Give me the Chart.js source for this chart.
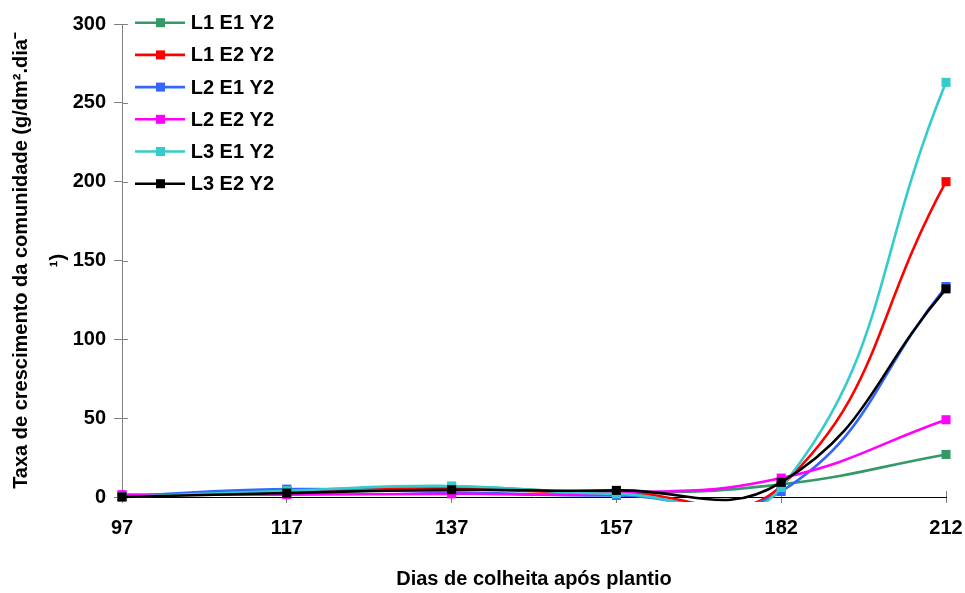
<!DOCTYPE html>
<html>
<head>
<meta charset="utf-8">
<script src="https://cdn.jsdelivr.net/npm/chart.js@4"></script>
<style>
  html, body { margin: 0; padding: 0; background: #ffffff; }
  #wrap { width: 965px; height: 593px; }
</style>
</head>
<body>
<div id="wrap"><canvas id="c" width="965" height="593"></canvas></div>
<script>
const categories = ['97', '117', '137', '157', '182', '212'];
const seriesNames = ['L1 E1 Y2', 'L1 E2 Y2', 'L2 E1 Y2', 'L2 E2 Y2', 'L3 E1 Y2', 'L3 E2 Y2'];
const l1e1 = [0.5, 4, 6.5, 3, 8, 27];
const l1e2 = [0.5, 4, 5, 3, 7, 200];
const l2e1 = [0.5, 5, 3, 1, 3.5, 133.5];
const l2e2 = [1.5, 1.5, 2, 2.5, 12, 49];
const l3e1 = [0, 4, 7, 2, 6, 263];
const l3e2 = [0, 2.5, 4.6, 4.2, 9.3, 132];
const yTickValues = [0, 50, 100, 150, 200, 250, 300];
const seriesColors = ['#339966', '#FF0000', '#3366FF', '#FF00FF', '#33CCCC', '#000000'];
const xTitle = 'Dias de colheita após plantio';
const yTitle = ['Taxa de crescimento da comunidade (g/dm².dia⁻', '¹)'];

const FONT = '"Liberation Sans", Arial, sans-serif';
const allSeries = [l1e1, l1e2, l2e1, l2e2, l3e1, l3e2];

const datasets = allSeries.map((vals, i) => ({
  label: seriesNames[i],
  data: vals,
  borderColor: seriesColors[i],
  backgroundColor: seriesColors[i],
  pointBackgroundColor: seriesColors[i],
  pointBorderColor: seriesColors[i],
  pointBorderWidth: 0,
  pointStyle: 'rect',
  pointRadius: 6.4,
  pointHoverRadius: 6.4,
  borderWidth: 2.6,
  tension: 0.45,
  capBezierPoints: false,
  fill: false,
  order: allSeries.length - i,
  clip: { left: 10, top: 10, right: 10, bottom: 5 }
}));

const innerTicks = {
  id: 'innerTicks',
  beforeDatasetsDraw(chart) {
    const ctx = chart.ctx;
    const xs = chart.scales.x, ys = chart.scales.y;
    ctx.save();
    ctx.strokeStyle = '#808080';
    ctx.lineWidth = 1;
    ys.ticks.forEach(t => {
      const y = Math.round(ys.getPixelForValue(t.value)) + 0.5;
      ctx.beginPath();
      ctx.moveTo(xs.left, y);
      ctx.lineTo(xs.left + 6, y);
      ctx.stroke();
    });
    categories.forEach((c, i) => {
      const x = Math.round(xs.getPixelForValue(i)) + 0.5;
      ctx.beginPath();
      ctx.moveTo(x, ys.bottom);
      ctx.lineTo(x, ys.bottom - 6);
      ctx.stroke();
    });
    ctx.restore();
  }
};

const lineLegend = {
  id: 'lineLegend',
  afterDraw(chart) {
    const ctx = chart.ctx;
    const area = chart.chartArea;
    ctx.save();
    ctx.font = 'bold 20px ' + FONT;
    ctx.textBaseline = 'middle';
    ctx.textAlign = 'left';
    chart.data.datasets.forEach((ds, i) => {
      const y = area.top - 1.3 + i * 32.2;
      const x0 = area.left + 13;
      ctx.strokeStyle = ds.borderColor;
      ctx.lineWidth = 2.6;
      ctx.beginPath();
      ctx.moveTo(x0, y);
      ctx.lineTo(x0 + 50, y);
      ctx.stroke();
      ctx.fillStyle = ds.borderColor;
      ctx.fillRect(x0 + 25.5 - 4.5, y - 4.5, 9, 9);
      ctx.fillStyle = '#000000';
      ctx.fillText(ds.label, x0 + 55.7, y + 1);
    });
    ctx.restore();
  }
};

new Chart(document.getElementById('c'), {
  type: 'line',
  data: { labels: categories, datasets },
  options: {
    responsive: false,
    animation: false,
    devicePixelRatio: 1,
    layout: { padding: { left: 0, top: 24, right: 19, bottom: 0 } },
    plugins: {
      legend: { display: false },
      tooltip: { enabled: false },
      title: { display: false }
    },
    scales: {
      x: {
        type: 'category',
        offset: false,
        afterFit(scale) { scale.height = 96; scale.paddingRight = 0; scale.paddingLeft = 0; },
        grid: { display: true, drawOnChartArea: false, drawTicks: true, tickLength: 6, color: '#808080' },
        border: { display: true, color: '#000000', width: 1 },
        ticks: {
          color: '#000000',
          font: { family: FONT, size: 20, weight: 'bold' },
          padding: 13,
          maxRotation: 0,
          autoSkip: false
        },
        title: {
          display: true,
          text: xTitle,
          color: '#000000',
          font: { family: FONT, size: 20, weight: 'bold', lineHeight: 1.2 },
          padding: { top: 0, bottom: 2 }
        }
      },
      y: {
        min: 0,
        max: 300,
        afterFit(scale) { scale.width = 122; },
        afterBuildTicks(scale) { scale.ticks = yTickValues.map(v => ({ value: v })); },
        grid: { display: true, drawOnChartArea: false, drawTicks: true, tickLength: 8, color: '#808080' },
        border: { display: true, color: '#808080', width: 1 },
        ticks: {
          color: '#000000',
          font: { family: FONT, size: 20, weight: 'bold' },
          padding: 8
        },
        title: {
          display: true,
          text: yTitle,
          color: '#000000',
          font: { family: FONT, size: 20, weight: 'bold', lineHeight: 1.85 },
          padding: { top: 3, bottom: 0 }
        }
      }
    }
  },
  plugins: [innerTicks, lineLegend]
});
</script>
</body>
</html>
